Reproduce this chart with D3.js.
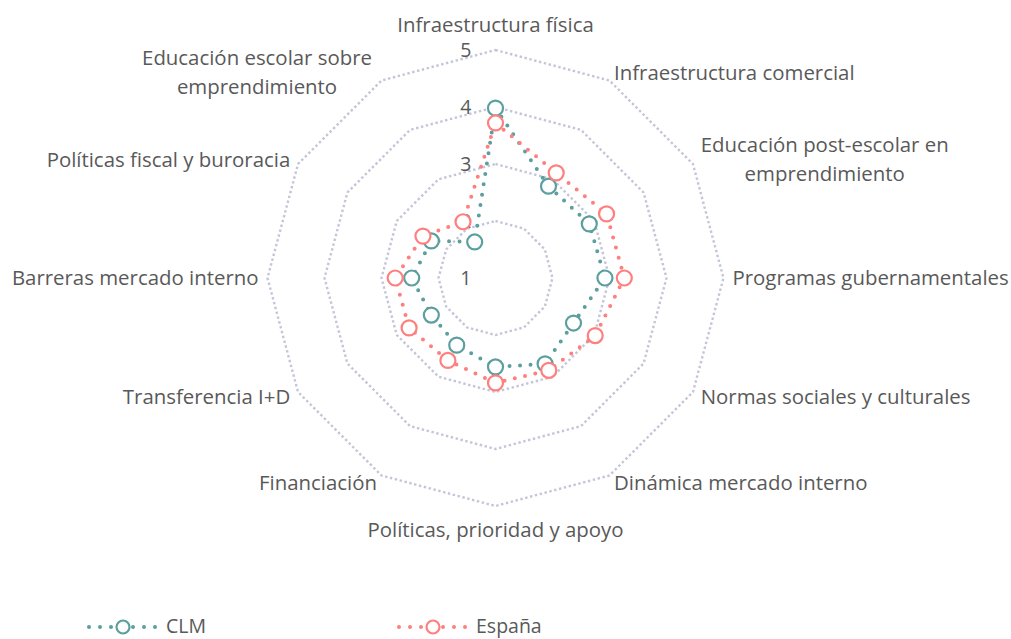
<!DOCTYPE html>
<html>
<head>
<meta charset="utf-8">
<script src="https://cdn.jsdelivr.net/npm/d3@7/dist/d3.min.js"></script>
<style>
  body { margin: 0; background: #fff; }
  text { font-family: "Open Sans", "Noto Sans", sans-serif; fill: #595959; }
</style>
</head>
<body>
<div id="radar"></div>
<script>
// axis names, clockwise from the top
var categories = [
    "Infraestructura física",
    "Infraestructura comercial",
    "Educación post-escolar en|emprendimiento",
    "Programas gubernamentales",
    "Normas sociales y culturales",
    "Dinámica mercado interno",
    "Políticas, prioridad y apoyo",
    "Financiación",
    "Transferencia I+D",
    "Barreras mercado interno",
    "Políticas fiscal y buroracia",
    "Educación escolar sobre|emprendimiento"
];
var clm = [3.98, 2.86, 2.9, 2.92, 2.58, 2.74, 2.56, 2.36, 2.3, 2.47, 2.3, 1.73];
var espana = [3.72, 3.13, 3.25, 3.26, 3.02, 2.87, 2.84, 2.67, 2.75, 2.76, 2.47, 2.14];
var ticks = [1, 2, 3, 4, 5];
var seriesNames = ["CLM", "España"];
var seriesColors = ["#5b9f9e", "#ff7f7f"];

var width = 1011, height = 639;
var cx = 495.5, cy = 278;
var radius = 228;
var fontSize = "20.4px";

var r = d3.scaleLinear().domain([1, 5]).range([0, radius]);
var angle = function (i) { return i * 2 * Math.PI / categories.length; };

var svg = d3.select("#radar").append("svg")
    .attr("width", width)
    .attr("height", height);
var g = svg.append("g").attr("transform", "translate(" + cx + "," + cy + ")");

// grid rings
var ring = d3.lineRadial().angle(function (d, i) { return angle(i); })
    .radius(function (d) { return r(d); })
    .curve(d3.curveLinearClosed);
g.selectAll(".grid")
    .data(ticks.slice(1))
    .enter().append("path")
    .attr("class", "grid")
    .attr("d", function (t) { return ring(categories.map(function () { return t; })); })
    .attr("fill", "none")
    .attr("stroke", "#c3c5d8")
    .attr("stroke-width", 2.4)
    .attr("stroke-dasharray", "2.4 2.6");

// tick labels
g.selectAll(".tick")
    .data(ticks)
    .enter().append("text")
    .attr("x", -24)
    .attr("y", function (t) { return -r(t); })
    .attr("dy", "0.35em")
    .attr("text-anchor", "end")
    .style("font-size", "19.5px")
    .text(function (t) { return t; });

// axis labels
var lab = g.selectAll(".axis-label")
    .data(categories)
    .enter().append("text")
    .attr("class", "axis-label")
    .style("font-size", fontSize)
    .attr("text-anchor", function (d, i) {
        var s = Math.sin(angle(i));
        return Math.abs(s) < 0.01 ? "middle" : (s > 0 ? "start" : "end");
    })
    .attr("transform", function (d, i) {
        var a = angle(i), rr = radius + 9;
        var x = rr * Math.sin(a), y = -rr * Math.cos(a);
        var lines = d.split("|").length;
        var c = Math.cos(a);
        var y0;
        if (Math.abs(Math.sin(a)) < 0.01) {
            y0 = c > 0 ? y - 9 - (lines - 1) * 29 : y + 22;
        } else {
            y0 = y + 7 - (lines - 1) * 14.5;
        }
        if (Math.sin(a) < -0.01 && lines > 1) x -= 5;
        return "translate(" + x + "," + y0 + ")";
    });
lab.each(function (d, i) {
    var el = d3.select(this);
    var parts = d.split("|");
    if (parts.length === 1) { el.text(d); return; }
    // two-line labels are centred within their own block
    el.text(parts[0]);
    var w0 = this.getComputedTextLength();
    el.text(null);
    var s = Math.sin(angle(i));
    el.attr("text-anchor", "middle");
    var mid = s > 0 ? w0 / 2 : -w0 / 2;
    parts.forEach(function (p, k) {
        el.append("tspan").attr("x", mid).attr("y", k * 29).text(p);
    });
});

// series
var series = [clm, espana];
var line = d3.lineRadial().angle(function (d, i) { return angle(i); })
    .radius(function (d) { return r(d); })
    .curve(d3.curveLinearClosed);

series.forEach(function (vals, k) {
    var col = seriesColors[k];
    g.append("path")
        .attr("d", line(vals))
        .attr("fill", "none")
        .attr("stroke", col)
        .attr("stroke-width", 4)
        .attr("stroke-linecap", "round")
        .attr("stroke-dasharray", "0 10.5");
    g.selectAll(".pt" + k)
        .data(vals)
        .enter().append("circle")
        .attr("cx", function (d, i) { return r(d) * Math.sin(angle(i)); })
        .attr("cy", function (d, i) { return -r(d) * Math.cos(angle(i)); })
        .attr("r", 7.5)
        .attr("fill", "#fff")
        .attr("stroke", col)
        .attr("stroke-width", 2.2);
});

// legend
var legend = svg.selectAll(".legend")
    .data(seriesNames)
    .enter().append("g")
    .attr("class", "legend")
    .attr("transform", function (d, i) { return "translate(" + (89 + i * 310) + ",627)"; });
legend.append("line")
    .attr("x1", 0).attr("x2", 67).attr("y1", 0).attr("y2", 0)
    .attr("stroke", function (d, i) { return seriesColors[i]; })
    .attr("stroke-width", 4)
    .attr("stroke-linecap", "round")
    .attr("stroke-dasharray", "0 11");
legend.append("circle")
    .attr("cx", 34).attr("cy", 0).attr("r", 6.5)
    .attr("fill", "#fff")
    .attr("stroke", function (d, i) { return seriesColors[i]; })
    .attr("stroke-width", 2.2);
legend.append("text")
    .attr("x", 77).attr("y", 0).attr("dy", "0.32em")
    .style("font-size", "19.5px")
    .text(function (d) { return d; });
</script>
</body>
</html>
